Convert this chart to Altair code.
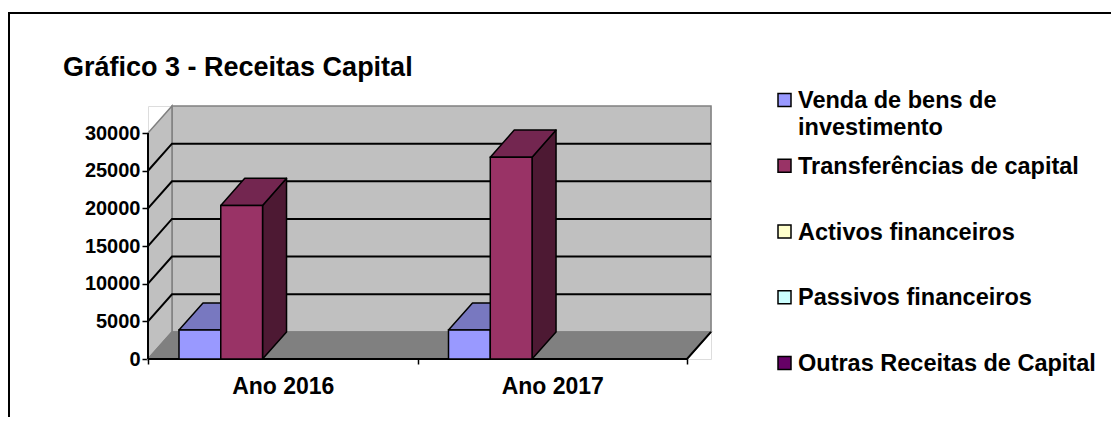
import json
import altair as alt
import pandas as pd

# ---------------- data ----------------
TITLE = "Gráfico 3 - Receitas Capital"
categories = ["Ano 2016", "Ano 2017"]
series = ["Venda de bens de investimento", "Transferências de capital",
          "Activos financeiros", "Passivos financeiros", "Outras Receitas de Capital"]
legend_labels = ["Venda de bens de\ninvestimento", "Transferências de capital",
                 "Activos financeiros", "Passivos financeiros", "Outras Receitas de Capital"]
values_2016 = [3850, 20400, 0, 0, 0]
values_2017 = [3850, 26800, 0, 0, 0]
y_ticks = [0, 5000, 10000, 15000, 20000, 25000, 30000]

# ---------------- style ----------------
front_colors = ["#9999FF", "#993366", "#FFFFCC", "#CCFFFF", "#660066"]
top_colors = ["#7878C0", "#732650", "#C0C099", "#99C0C0", "#4D004D"]
side_colors = ["#5A5A90", "#4D1933", "#808066", "#668080", "#330033"]
FONT = "Liberation Sans"
DX = 0.089     # 3-D depth, in category units
DY = 3600      # 3-D depth, in value units
BAR_OFF = 0.115
BAR_W = 0.155
Y_MAX = y_ticks[-1]
W, H = 563, 253
N = len(categories)

xscale = alt.Scale(domain=[0, N + DX], nice=False, zero=False)
yscale = alt.Scale(domain=[0, Y_MAX + DY], nice=False, zero=False)
xaxis = alt.Axis(values=list(range(N + 1)), title=None, domain=False, grid=False,
                 labelExpr=json.dumps(categories + [""]) + "[datum.value]",
                 labelOffset=W / (N + DX) / 2, labelFlush=False, labelOverlap=False,
                 tickSize=5, tickColor="black", tickWidth=1.5, labelPadding=11,
                 labelFont=FONT, labelFontWeight="bold", labelFontSize=23, labelColor="black")
yaxis = alt.Axis(values=y_ticks, format="d", title=None, domain=False, grid=False,
                 tickSize=6, tickColor="black", tickWidth=1.5, labelPadding=2,
                 labelFont=FONT, labelFontWeight="bold", labelFontSize=20, labelColor="black")


def X(f):
    return alt.X(f, type="quantitative", scale=xscale, axis=xaxis)


def Y(f):
    return alt.Y(f, type="quantitative", scale=yscale, axis=yaxis, stack=None)


# walls / floor
back = pd.DataFrame([{"x": DX, "x2": N + DX, "y": DY, "y2": Y_MAX + DY}])
left_wall = pd.DataFrame([{"x": 0, "ya": 0, "yb": Y_MAX}, {"x": DX, "ya": DY, "yb": Y_MAX + DY}])
floor = pd.DataFrame([{"y": 0, "xa": 0, "xb": N}, {"y": DY, "xa": DX, "xb": N + DX}])
grid_rows = []
for t in y_ticks[1:-1]:
    grid_rows += [{"g": t, "o": 0, "x": 0, "y": t},
                  {"g": t, "o": 1, "x": DX, "y": t + DY},
                  {"g": t, "o": 2, "x": N + DX, "y": t + DY}]
grid = pd.DataFrame(grid_rows)
front_edge = pd.DataFrame([{"o": 0, "x": 0, "y": 0}, {"o": 1, "x": N, "y": 0},
                           {"o": 2, "x": N + DX, "y": DY}])
yline = pd.DataFrame([{"x": 0, "y": 0, "y2": Y_MAX}])

# bars
fronts, tops, sides = [], [], []
for ci, vals in enumerate([values_2016, values_2017]):
    for si, v in enumerate(vals):
        if v <= 0:
            continue
        x0 = ci + BAR_OFF + si * BAR_W
        x1 = x0 + BAR_W
        bid = f"{ci}-{si}"
        fronts.append({"x": x0, "x2": x1, "y": 0, "y2": v, "c": front_colors[si]})
        tops += [{"b": bid, "y": v, "xa": x0, "xb": x1, "c": top_colors[si]},
                 {"b": bid, "y": v + DY, "xa": x0 + DX, "xb": x1 + DX, "c": top_colors[si]}]
        sides += [{"b": bid, "x": x1, "ya": 0, "yb": v, "c": side_colors[si]},
                  {"b": bid, "x": x1 + DX, "ya": DY, "yb": v + DY, "c": side_colors[si]}]
fronts, tops, sides = pd.DataFrame(fronts), pd.DataFrame(tops), pd.DataFrame(sides)

col = alt.Color("c:N", scale=None, legend=None)

l_back = alt.Chart(back).mark_rect(fill="#C0C0C0", stroke="#808080", strokeWidth=1.5).encode(
    x=X("x"), x2="x2", y=Y("y"), y2="y2")
l_left = alt.Chart(left_wall).mark_area(orient="vertical", fill="#C0C0C0", stroke="#808080",
                                        strokeWidth=1.5).encode(x=X("x"), y=Y("ya"), y2="yb")
l_floor = alt.Chart(floor).mark_area(orient="horizontal", fill="#808080", stroke="#808080",
                                     strokeWidth=1.5).encode(y=Y("y"), x=X("xa"), x2="xb")
l_grid = alt.Chart(grid).mark_line(color="black", strokeWidth=2).encode(
    x=X("x"), y=Y("y"), detail="g:N", order="o:Q")
l_edge = alt.Chart(front_edge).mark_line(color="black", strokeWidth=2).encode(
    x=X("x"), y=Y("y"), order="o:Q")
l_yline = alt.Chart(yline).mark_rule(color="black", strokeWidth=2).encode(
    x=X("x"), y=Y("y"), y2="y2")
l_side = alt.Chart(sides).mark_area(orient="vertical", stroke="black", strokeWidth=1.5,
                                    strokeJoin="round").encode(
    x=X("x"), y=Y("ya"), y2="yb", detail="b:N", fill=col)
l_top = alt.Chart(tops).mark_area(orient="horizontal", stroke="black", strokeWidth=1.5,
                                  strokeJoin="round").encode(
    y=Y("y"), x=X("xa"), x2="xb", detail="b:N", fill=col)
l_front = alt.Chart(fronts).mark_rect(stroke="black", strokeWidth=1.5).encode(
    x=X("x"), x2="x2", y=Y("y"), y2="y2", fill=col)

one = pd.DataFrame([{"k": 0}])
border = alt.Chart(one).mark_rect(filled=False, stroke="black", strokeWidth=2).encode(
    x=alt.value(-139), y=alt.value(-93), x2=alt.value(1400), y2=alt.value(700))
title = alt.Chart(one).mark_text(align="left", baseline="alphabetic", font=FONT,
                                 fontWeight="bold", fontSize=27, color="black").encode(
    x=alt.value(-85), y=alt.value(-30), text=alt.value(TITLE))

geometry = alt.layer(border, title, l_back, l_left, l_floor, l_grid, l_edge, l_yline,
                     l_side, l_top, l_front)

# legend
leg = pd.DataFrame({"series": series, "label": legend_labels, "c": front_colors})
ly = alt.Y("series:N", scale=alt.Scale(type="point", domain=series, range=[-6, 257], padding=0),
           axis=None, sort=series)
leg_sq = alt.Chart(leg).mark_square(size=169, opacity=1, stroke="black", strokeWidth=1.5).encode(
    x=alt.value(636.5), y=ly, fill=col)
leg_tx = alt.Chart(leg).mark_text(align="left", baseline="alphabetic", dy=8, lineBreak="\n",
                                  lineHeight=27, font=FONT, fontWeight="bold", fontSize=23.5,
                                  color="black").encode(
    x=alt.value(650), y=ly, text="label:N")
legend = alt.layer(leg_sq, leg_tx)

chart = alt.layer(geometry, legend).resolve_scale(y="independent").properties(
    width=W, height=H,
    padding={"left": 140, "top": 98, "right": 400, "bottom": 58},
    autosize="none",
).configure_view(stroke=None).configure(background="white")

chart.save("out.html", embed_options={"renderer": "svg", "actions": False})
